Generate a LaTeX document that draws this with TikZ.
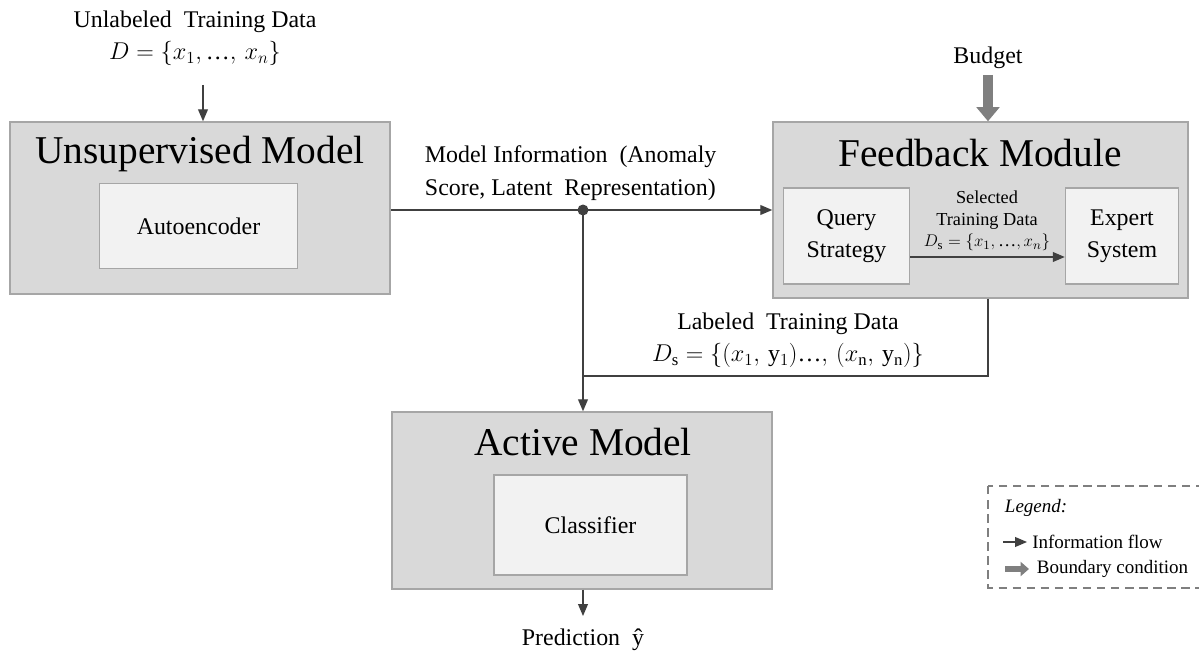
\documentclass[tikz,border=0pt]{standalone}
\usepackage{fontspec}
\setmainfont{Liberation Serif}
\usetikzlibrary{arrows.meta,positioning}

\definecolor{boxgray}{HTML}{D9D9D9}
\definecolor{innergray}{HTML}{F2F2F2}
\definecolor{edgegray}{HTML}{A6A6A6}
\definecolor{linegray}{HTML}{404040}
\definecolor{boundgray}{HTML}{7F7F7F}

\newcommand{\dotsy}{\mbox{…}}

\tikzset{
  outerbox/.style={draw=edgegray, line width=1pt, fill=boxgray, minimum width=9.5cm, minimum height=4.3cm},
  innerbox/.style={draw=edgegray, line width=1pt, fill=innergray, align=center,
    font=\fontsize{17}{22.7}\selectfont},
  boxtitle/.style={font=\fontsize{28}{30}\selectfont},
  lbl/.style={font=\fontsize{17}{23}\selectfont, align=center},
  smalllbl/.style={font=\fontsize{13}{15.2}\selectfont, align=center},
  flow/.style={draw=linegray, line width=0.9pt, -{Triangle[length=8.5pt,width=7pt]}},
  plainline/.style={draw=linegray, line width=0.9pt},
  boundary/.style={draw=boundgray, line width=7pt, -{Triangle[length=10pt,width=16pt]}}
}

\begin{document}
\begin{tikzpicture}[x=0.025cm,y=-0.025cm]
\useasboundingbox (0,0) rectangle (1199,657);

% unsupervised model
\node[outerbox] (unsup) at (200,208) {};
\node[boxtitle] (unsupT) at (200,154) {Unsupervised Model};
\node[innerbox, minimum width=4.95cm, minimum height=2.125cm] (auto) at (198.5,226) {Autoencoder};
\node[lbl] (unlab) at (195,38) {Unlabeled~ Training Data\\$D = \{x_1,\dotsy,\, x_n\}$};
\coordinate (unlabS) at (203,85);
\draw[flow] (unlabS) -- (unlabS |- unsup.north);

% feedback module
\node[outerbox, minimum width=10.375cm, minimum height=4.4cm] (fb) at (980.5,210) {};
\node[boxtitle] (fbT) at (980,153) {Feedback Module};
\node[innerbox, minimum width=3.15cm, minimum height=2.4cm] (query) at (846.5,236) {Query\\Strategy};
\node[innerbox, minimum width=2.825cm, minimum height=2.4cm] (expert) at (1122,236) {Expert\\System};
\node[smalllbl] (sel) at (987,221) {Selected\\Training Data\\$D_{\mathrm{s}} = \{x_1,\dotsy,x_n\}$};
\draw[flow] ([yshift=-0.525cm]query.east) -- ([yshift=-0.525cm]expert.west);
\node[lbl] (budget) at (988,58) {Budget};
\coordinate (budgetS) at (988,75);
\draw[boundary] (budgetS) -- (budgetS |- fb.north);

% model information
\coordinate (dot) at (583,210);
\draw[flow] (dot -| unsup.east) -- (dot -| fb.west);
\fill[linegray] (dot) circle (5.5);
\node[lbl, align=left, anchor=west] (info) at (420,173) {Model Information~ (Anomaly\\Score, Latent~ Representation)};

% labeled data
\coordinate (lab) at (988,376);
\draw[plainline] (fb.south -| lab) -- (lab) -- (lab -| dot);
\node[lbl] (labT) at (788,340) {Labeled~ Training Data\\$D_{\mathrm{s}} = \{(x_1,\, \mathrm{y}_1)\dotsy,\, (x_{\mathrm{n}},\, \mathrm{y}_{\mathrm{n}})\}$};

% active model
\node[outerbox, minimum height=4.425cm] (active) at (582,500.5) {};
\node[boxtitle] (activeT) at (583,442) {Active Model};
\node[innerbox, minimum width=4.825cm, minimum height=2.5cm] (clf) at (590.5,525) {Classifier};
\draw[flow] (dot) -- (dot |- active.north);
\node[lbl] (pred) at (583,640) {Prediction~ ŷ};
\coordinate (predN) at (583,616);
\draw[flow] (predN |- active.south) -- (predN);

% legend
\draw[draw=boundgray, line width=0.9pt, dash pattern=on 6pt off 4pt] (988,486) rectangle (1205,588);
\node[smalllbl, anchor=west, font=\fontsize{13.5}{15}\itshape] (legT) at (1000,508) {Legend:};
\coordinate (legA) at (1003,542);
\coordinate (legB) at (1005,569);
\draw[flow] (legA) -- ++(24,0) node[smalllbl, anchor=west, font=\fontsize{13.5}{15}\selectfont] (legFlow) {Information flow};
\draw[draw=boundgray, line width=4.5pt, -{Triangle[length=6pt,width=10pt]}] (legB) -- ++(24,0) node[smalllbl, anchor=west, font=\fontsize{13.5}{15}\selectfont] (legBound) {Boundary condition};
\end{tikzpicture}
\end{document}
